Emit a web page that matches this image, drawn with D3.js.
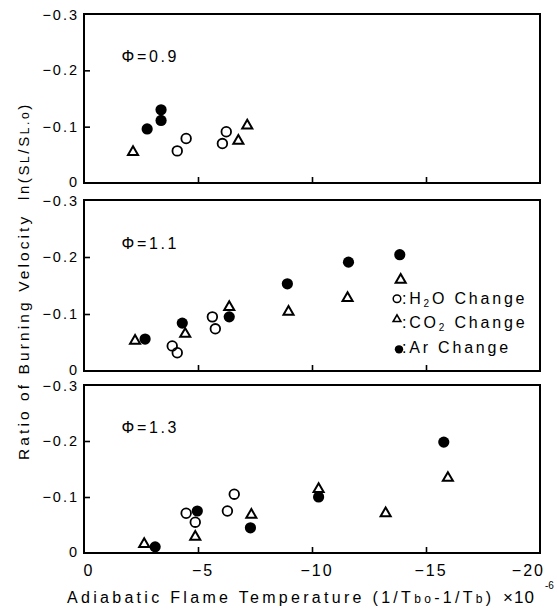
<!DOCTYPE html>
<html>
<head>
<meta charset="utf-8">
<script src="https://cdn.jsdelivr.net/npm/d3@7"></script>
<style>
body{margin:0;background:#fff;}
text{font-family:"Liberation Sans",Arial,sans-serif;fill:#000;}
</style>
</head>
<body>
<div id="chart"></div>
<script>
// [x (1/Tbo-1/Tb) x1e-6, ln(SL/SL,o)]
var h2o09=[[-4.09,-0.057],[-4.48,-0.079],[-6.07,-0.070],[-6.24,-0.091]];
var co2_09=[[-2.15,-0.055],[-6.77,-0.075],[-7.16,-0.102]];
var ar09=[[-2.77,-0.096],[-3.38,-0.130],[-3.38,-0.111]];

var h2o11=[[-3.87,-0.044],[-4.09,-0.032],[-5.63,-0.095],[-5.76,-0.074]];
var co2_11=[[-2.24,-0.053],[-4.44,-0.065],[-6.37,-0.112],[-8.97,-0.104],[-11.56,-0.128],[-13.89,-0.160]];
var ar11=[[-2.68,-0.056],[-4.31,-0.084],[-6.37,-0.095],[-8.92,-0.153],[-11.60,-0.191],[-13.85,-0.204]];

var h2o13=[[-4.48,-0.071],[-4.88,-0.055],[-6.29,-0.075],[-6.59,-0.105]];
var co2_13=[[-2.64,-0.016],[-4.88,-0.029],[-7.34,-0.068],[-10.29,-0.114],[-13.23,-0.071],[-15.96,-0.134]];
var ar13=[[-3.12,-0.011],[-4.97,-0.075],[-7.30,-0.045],[-10.29,-0.100],[-15.78,-0.198]];

var phiLabels=["\u03A6=0.9","\u03A6=1.1","\u03A6=1.3"];
var xTicks=[0,-5,-10,-15,-20];
var yTicks=[0,-0.1,-0.2,-0.3];
var legendLabels=[["H","2","O"],["CO","2",""],["Ar","",""]];

var W=557,H=610;
var svg=d3.select("#chart").append("svg").attr("width",W).attr("height",H);
svg.append("rect").attr("width",W).attr("height",H).attr("fill","#fff");

var x=d3.scaleLinear().domain([0,-20]).range([84,540]);
var panels=[
	{top:14,bottom:183,h2o:h2o09,co2:co2_09,ar:ar09,label:phiLabels[0]},
	{top:200,bottom:371,h2o:h2o11,co2:co2_11,ar:ar11,label:phiLabels[1]},
	{top:385,bottom:553,h2o:h2o13,co2:co2_13,ar:ar13,label:phiLabels[2]}
];

function fmt(v){ return v==0?"0":d3.format(".1f")(v).replace("-","\u2212"); }
var tri=d3.symbol().type(d3.symbolTriangle).size(44);

panels.forEach(function(p,i){
	var y=d3.scaleLinear().domain([0,-0.3]).range([p.bottom,p.top]);
	var g=svg.append("g");

	// y ticks (inward) and labels
	g.append("g").attr("transform","translate("+x(0)+",0)")
		.call(d3.axisRight(y).tickValues([-0.1,-0.2]).tickSize(6).tickFormat(""))
		.call(function(a){a.select(".domain").remove();a.selectAll("line").attr("stroke-width",1.6);});
	g.selectAll(".ylab").data(yTicks).enter().append("text")
		.attr("x",79).attr("y",function(d){return y(d)+(d==0?4:d==-0.3?6:5);})
		.attr("text-anchor","end").attr("font-size",14.5).attr("letter-spacing",2)
		.text(fmt);

	// x ticks (inward)
	g.append("g").attr("transform","translate(0,"+p.bottom+")")
		.call(d3.axisTop(x).tickValues([-5,-10,-15]).tickSize(6).tickFormat(""))
		.call(function(a){a.select(".domain").remove();a.selectAll("line").attr("stroke-width",1.6);});

	// frame
	g.append("rect").attr("x",x(0)).attr("y",p.top)
		.attr("width",x(-20)-x(0)).attr("height",p.bottom-p.top)
		.attr("fill","none").attr("stroke","#000").attr("stroke-width",2);

	g.append("text").attr("x",x(-1.65)).attr("y",y(-0.225)+6)
		.attr("font-size",16).attr("letter-spacing",2.6).text(p.label);

	g.selectAll(".co2").data(p.co2).enter().append("path")
		.attr("d",tri).attr("transform",function(d){return "translate("+x(d[0])+","+y(d[1])+")";})
		.attr("fill","none").attr("stroke","#000").attr("stroke-width",2);
	g.selectAll(".h2o").data(p.h2o).enter().append("circle")
		.attr("cx",function(d){return x(d[0]);}).attr("cy",function(d){return y(d[1]);})
		.attr("r",4.8).attr("fill","none").attr("stroke","#000").attr("stroke-width",1.8);
	g.selectAll(".ar").data(p.ar).enter().append("circle")
		.attr("cx",function(d){return x(d[0]);}).attr("cy",function(d){return y(d[1]);})
		.attr("r",5.6).attr("fill","#000");

	if(i==1){
		var lg=g.append("g");
		var ly=[y(-0.118),y(-0.075),y(-0.031)];
		lg.append("circle").attr("cx",397).attr("cy",ly[0]-5).attr("r",3.8)
			.attr("fill","none").attr("stroke","#000").attr("stroke-width",1.5);
		lg.append("path").attr("d",d3.symbol().type(d3.symbolTriangle).size(26))
			.attr("transform","translate(397,"+(ly[1]-9)+")")
			.attr("fill","none").attr("stroke","#000").attr("stroke-width",1.6);
		lg.append("circle").attr("cx",399).attr("cy",ly[2]-4).attr("r",4.2).attr("fill","#000");
		legendLabels.forEach(function(n,k){
			var t=lg.append("text").attr("x",402).attr("y",ly[k])
				.attr("font-size",16).attr("letter-spacing",2.8);
			t.append("tspan").text(":"+n[0]);
			if(n[1]) t.append("tspan").attr("font-size",10).attr("dy",3).text(n[1]);
			t.append("tspan").attr("dy",n[1]?-3:0).text(n[2]+" Change");
		});
	}
});

// x tick labels under the bottom panel
svg.selectAll(".xlab").data(xTicks).enter().append("text")
	.attr("x",function(d){return d==-20?545:x(d)+5;}).attr("y",576)
	.attr("text-anchor",function(d){return d==-20?"end":"middle";})
	.attr("font-size",16).attr("letter-spacing",2)
	.text(function(d){return d==0?"0":"\u2212"+(-d);});

// x axis title
var xt=svg.append("text").attr("x",67).attr("y",603).attr("font-size",16).attr("letter-spacing",3.3);
xt.append("tspan").text("Adiabatic Flame Temperature (1/T");
xt.append("tspan").attr("font-size",12).text("bo");
xt.append("tspan").text("-1/T");
xt.append("tspan").attr("font-size",12).text("b");
xt.append("tspan").text(")");
svg.append("text").attr("x",503).attr("y",603).attr("font-size",17).attr("letter-spacing",1).text("\u00D710");
svg.append("text").attr("x",545).attr("y",589).attr("font-size",10).text("-6");

// y axis titles
svg.append("text").attr("transform","translate(29,460) rotate(-90)")
	.attr("font-size",15.5).attr("letter-spacing",3.1).text("Ratio of Burning Velocity");
var yt=svg.append("text").attr("transform","translate(29,200) rotate(-90)")
	.attr("font-size",15).attr("letter-spacing",2.6);
yt.append("tspan").text("ln(S");
yt.append("tspan").attr("font-size",12).text("L");
yt.append("tspan").text("/S");
yt.append("tspan").attr("font-size",12).text("L.o");
yt.append("tspan").text(")");
</script>
</body>
</html>
